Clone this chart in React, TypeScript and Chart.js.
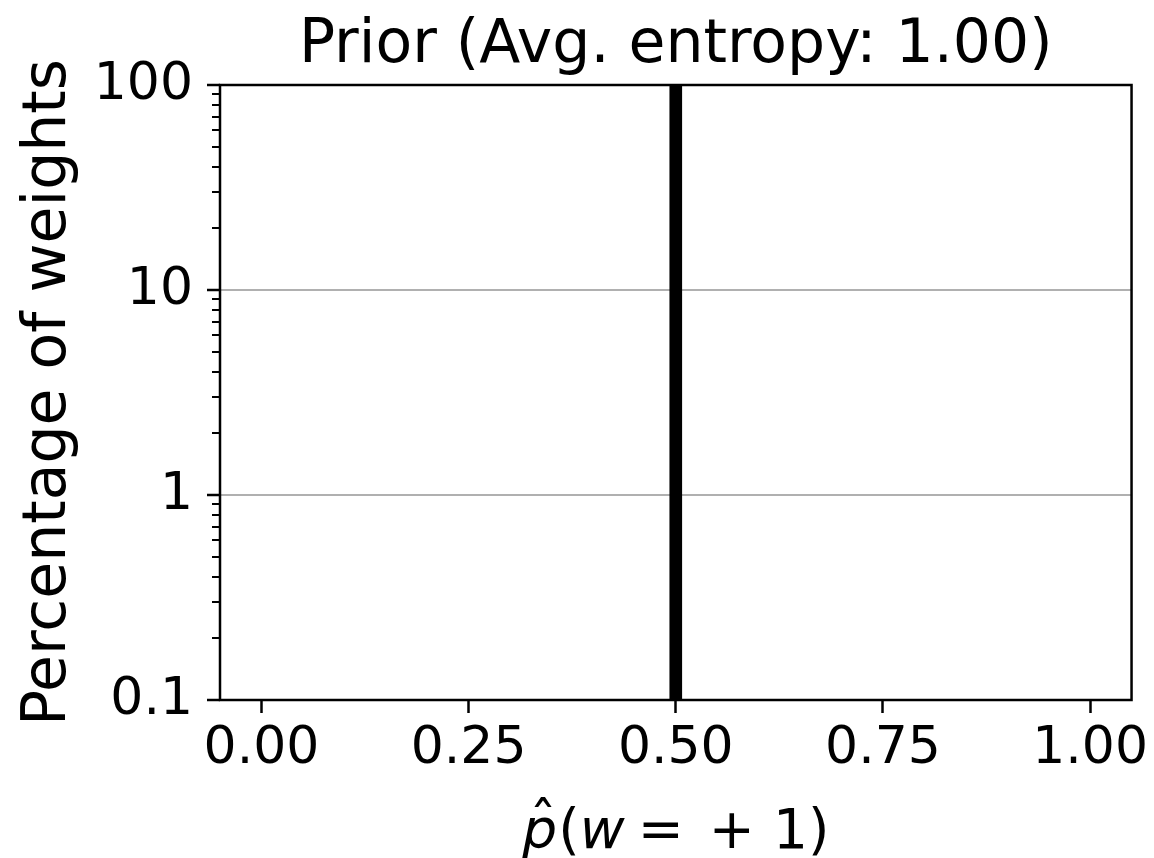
import React, { useEffect, useRef } from "react";
import { Chart, registerables } from "chart.js";

Chart.register(...registerables);

// ---- data ----
const BIN_CENTERS = [0.5];
const PERCENTAGES = [100];
const X_TICKS = [0, 0.25, 0.5, 0.75, 1.0];
const Y_TICKS = [0.1, 1, 10, 100];
const Y_TICK_LABELS = ["0.1", "1", "10", "100"];
const Y_MINOR_TICKS = [
  0.2, 0.3, 0.4, 0.5, 0.6, 0.7, 0.8, 0.9,
  2, 3, 4, 5, 6, 7, 8, 9,
  20, 30, 40, 50, 60, 70, 80, 90,
];
const Y_GRID_VALUES = [1, 10];
const TITLE = "Prior (Avg. entropy: 1.00)";
const Y_LABEL = "Percentage of weights";
// x label: p̂(w = +1) with math italics for p and w
const X_LABEL_PARTS = [
  { t: "p", it: true, pre: 0, hat: true },
  { t: "(", it: false, pre: 0.02, hat: false },
  { t: "w", it: true, pre: 0, hat: false },
  { t: "=", it: false, pre: 0.24, hat: false },
  { t: "+", it: false, pre: 0.45, hat: false },
  { t: "1", it: false, pre: 0.33, hat: false },
  { t: ")", it: false, pre: 0, hat: false },
];

const FONT = '"DejaVu Sans", "Liberation Sans", sans-serif';

const decorPlugin = {
  id: "decor",
  afterDraw(chart: any) {
    const { ctx, chartArea } = chart;
    const { left, top, right, bottom } = chartArea;
    const yScale = chart.scales.y;
    ctx.save();
    // minor ticks on y axis
    ctx.strokeStyle = "#000";
    ctx.lineWidth = 2;
    for (const v of Y_MINOR_TICKS) {
      const py = Math.round(yScale.getPixelForValue(v));
      ctx.beginPath();
      ctx.moveTo(left - 8, py);
      ctx.lineTo(left, py);
      ctx.stroke();
    }
    // frame
    ctx.lineWidth = 2.5;
    ctx.strokeRect(left, top, right - left, bottom - top);

    // title
    const cx = (left + right) / 2;
    ctx.fillStyle = "#000";
    ctx.font = `60px ${FONT}`;
    ctx.textAlign = "center";
    ctx.textBaseline = "alphabetic";
    ctx.fillText(TITLE, cx, top - 23);

    // x axis label
    const size = 55;
    const normal = `${size}px ${FONT}`;
    const italic = `italic ${size}px ${FONT}`;
    let total = 0;
    const widths: number[] = [];
    for (const p of X_LABEL_PARTS) {
      ctx.font = p.it ? italic : normal;
      const w = ctx.measureText(p.t).width;
      widths.push(w);
      total += p.pre * size + w;
    }
    let x = cx - total / 2;
    const baseline = bottom + 148;
    ctx.textAlign = "left";
    X_LABEL_PARTS.forEach((p, i) => {
      x += p.pre * size;
      ctx.font = p.it ? italic : normal;
      ctx.fillText(p.t, x, baseline);
      if (p.hat) {
        ctx.font = normal;
        ctx.textAlign = "center";
        ctx.fillText("\u02C6", x + widths[i] / 2 + 0.06 * size, baseline - 0.12 * size);
        ctx.textAlign = "left";
      }
      x += widths[i];
    });
    ctx.restore();
  },
};

export default function App() {
  const ref = useRef<HTMLCanvasElement>(null);

  useEffect(() => {
    if (!ref.current) return;
    const chart = new Chart(ref.current, {
      type: "bar",
      data: {
        datasets: [
          {
            data: BIN_CENTERS.map((x, i) => ({ x, y: PERCENTAGES[i] })) as any,
            backgroundColor: "#000",
            borderWidth: 0,
            barThickness: 12,
          },
        ],
      },
      options: {
        animation: false,
        responsive: false,
        devicePixelRatio: 1,
        events: [],
        layout: { padding: { top: 85, right: 22, bottom: 0, left: 0 } },
        plugins: {
          legend: { display: false },
          title: { display: false },
          tooltip: { enabled: false },
        },
        scales: {
          x: {
            type: "linear",
            min: -0.05,
            max: 1.05,
            offset: false,
            afterBuildTicks: (scale: any) => {
              scale.ticks = X_TICKS.map((v) => ({ value: v }));
            },
            afterFit: (scale: any) => {
              scale.height = 158;
            },
            ticks: {
              autoSkip: false,
              maxRotation: 0,
              minRotation: 0,
              padding: 5,
              color: "#000",
              font: { family: FONT, size: 52 },
              callback: (v: any) => Number(v).toFixed(2),
            },
            grid: {
              offset: false,
              drawOnChartArea: false,
              drawTicks: true,
              tickLength: 13,
              tickWidth: 2.5,
              tickColor: "#000",
            },
            border: { display: false },
          },
          y: {
            type: "logarithmic",
            min: 0.1,
            max: 100,
            afterBuildTicks: (scale: any) => {
              scale.ticks = Y_TICKS.map((v) => ({ value: v }));
            },
            afterFit: (scale: any) => {
              scale.width = 220;
            },
            ticks: {
              padding: 14,
              color: "#000",
              font: { family: FONT, size: 52 },
              callback: (v: any) => {
                const idx = Y_TICKS.findIndex((t) => Math.abs(t - Number(v)) < 1e-9);
                return idx >= 0 ? Y_TICK_LABELS[idx] : "";
              },
            },
            grid: {
              color: (c: any) =>
                c.tick && Y_GRID_VALUES.some((g) => Math.abs(g - c.tick.value) < 1e-9)
                  ? "#b0b0b0"
                  : "rgba(0,0,0,0)",
              lineWidth: 2,
              drawTicks: true,
              tickLength: 13,
              tickWidth: 2.5,
              tickColor: "#000",
            },
            border: { display: false },
            title: {
              display: true,
              text: Y_LABEL,
              color: "#000",
              font: { family: FONT, size: 60 },
              padding: { top: 13, bottom: 0 },
            },
          },
        },
      },
      plugins: [decorPlugin],
    } as any);
    return () => chart.destroy();
  }, []);

  return (
    <div
      style={{
        position: "fixed",
        left: 0,
        top: 0,
        width: 1154,
        height: 858,
        background: "#fff",
      }}
    >
      <canvas ref={ref} width={1154} height={858} style={{ width: 1154, height: 858 }} />
    </div>
  );
}
